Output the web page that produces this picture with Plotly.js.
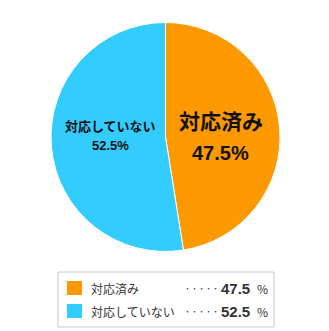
<!DOCTYPE html>
<html><head><meta charset="utf-8">
<script src="https://cdn.plot.ly/plotly-3.0.1.min.js"></script>
<style>html,body{margin:0;padding:0;background:#fff}#c{width:329px;height:331px}</style>
</head><body><div id="c"></div>
<script>
const categories = ["対応済み", "対応していない"];
const values = [47.5, 52.5];
const colors = ["#FF9900", "#33CCFF"];

const W = 329, H = 331;
const px = x => x / W, py = y => 1 - y / H;
const font = '"Noto Sans CJK JP", "Noto Sans", sans-serif';
const numFont = '"Liberation Sans", Arial, sans-serif';

const trace = {
  type: 'pie',
  labels: categories,
  values: values,
  sort: false,
  direction: 'clockwise',
  rotation: 0,
  marker: {colors: colors, line: {color: '#ffffff', width: 1}},
  textinfo: 'none',
  hoverinfo: 'none',
  showlegend: false,
  domain: {x: [px(51), px(280)], y: [py(253), py(21)]}
};

const shapes = [{
  type: 'rect', xref: 'paper', yref: 'paper',
  x0: px(58), x1: px(274), y0: py(327), y1: py(272),
  line: {color: '#c8c8c8', width: 1}, fillcolor: 'rgba(0,0,0,0)'
}];
const annotations = [];

// in-slice labels
const inLabel = [
  {x: 221, y1: 120, y2: 153, s1: 21, s2: 20},
  {x: 110, y1: 126, y2: 145, s1: 13, s2: 13}
];
categories.forEach((c, i) => {
  const L = inLabel[i];
  annotations.push({xref: 'paper', yref: 'paper', x: px(L.x), y: py(L.y1),
    xanchor: 'center', yanchor: 'middle', showarrow: false,
    text: '<b>' + c + '</b>', font: {family: font, size: L.s1, color: '#111'}});
  annotations.push({xref: 'paper', yref: 'paper', x: px(L.x), y: py(L.y2),
    xanchor: 'center', yanchor: 'middle', showarrow: false,
    text: '<b>' + values[i].toFixed(1) + '%</b>', font: {family: numFont, size: L.s2, color: '#111'}});
});

// legend box
const rowY = [288, 311];
categories.forEach((c, i) => {
  shapes.push({type: 'rect', xref: 'paper', yref: 'paper',
    x0: px(67), x1: px(82), y0: py(rowY[i] + 7), y1: py(rowY[i] - 7),
    line: {width: 0}, fillcolor: colors[i]});
  annotations.push({xref: 'paper', yref: 'paper', x: px(89), y: py(rowY[i]),
    xanchor: 'left', yanchor: 'middle', showarrow: false,
    text: c, font: {family: font, size: 12, color: '#333'}});
  annotations.push({xref: 'paper', yref: 'paper', x: px(182), y: py(rowY[i]),
    xanchor: 'left', yanchor: 'middle', showarrow: false,
    text: '・・・・・', font: {family: font, size: 7, color: '#333'}});
  annotations.push({xref: 'paper', yref: 'paper', x: px(252), y: py(rowY[i]),
    xanchor: 'right', yanchor: 'middle', showarrow: false,
    text: '<b>' + values[i].toFixed(1) + '</b>', font: {family: numFont, size: 15, color: '#333'}});
  annotations.push({xref: 'paper', yref: 'paper', x: px(255), y: py(rowY[i]),
    xanchor: 'left', yanchor: 'middle', showarrow: false,
    text: '%', font: {family: font, size: 12, color: '#333'}});
});

Plotly.newPlot('c', [trace], {
  width: W, height: H,
  margin: {l: 0, r: 0, t: 0, b: 0},
  paper_bgcolor: '#fff',
  shapes: shapes,
  annotations: annotations
}, {staticPlot: true});
</script></body></html>
